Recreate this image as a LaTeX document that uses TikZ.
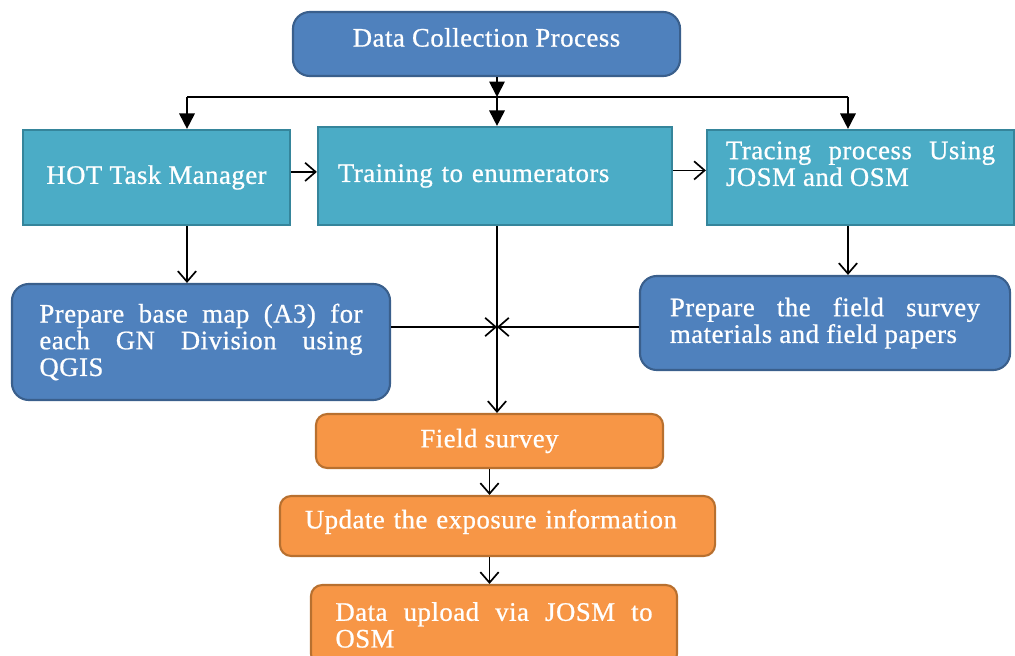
\documentclass[tikz,border=0pt]{standalone}
\usepackage{fontspec}
\setmainfont{Liberation Serif}[LetterSpace=2, FakeBold=0.8]
\usetikzlibrary{positioning}
\usetikzlibrary{arrows.meta}
\hyphenpenalty=10000
\exhyphenpenalty=10000

\definecolor{boxblue}{HTML}{4F81BD}
\definecolor{lineblue}{HTML}{3A5F8C}
\definecolor{boxteal}{HTML}{4BACC6}
\definecolor{lineteal}{HTML}{35859B}
\definecolor{boxorange}{HTML}{F79646}
\definecolor{lineorange}{HTML}{B8702F}

\tikzset{
    stagebox/.style={draw=lineblue, fill=boxblue, line width=1.5pt, rounded corners=12pt,
        text=white, font=\fontsize{19}{19}\selectfont},
    tealbox/.style={draw=lineteal, fill=boxteal, line width=1.5pt,
        text=white, font=\fontsize{19}{19}\selectfont},
    fieldbox/.style={draw=lineorange, fill=boxorange, line width=1.5pt, rounded corners=8pt,
        text=white, font=\fontsize{19}{19}\selectfont},
    tri/.style={-{Triangle[width=11pt, length=11pt]}, line width=1.3pt},
    barb/.style={-{Straight Barb[width=13pt, length=7.5pt]}, line width=1.2pt}
}

\newcommand{\toptext}[3]{\parbox[c][#2][t]{#1}{#3}}

\begin{document}
\begin{tikzpicture}[x=0.025cm, y=-0.025cm]
    \useasboundingbox (0,0) rectangle (1015,656);

    % top row
    \node[stagebox, minimum width=9.675cm, minimum height=1.6cm, text depth=9.5pt] (collect) at (486.5,44) {Data Collection Process};
    \node[tealbox, minimum width=6.675cm, minimum height=2.375cm] (hot) at (156.5,177.5) {HOT Task Manager};
    \node[tealbox, minimum width=8.85cm, minimum height=2.45cm, text width=7.85cm, align=left] (train) at (495,176) {Training to enumerators};
    \node[tealbox, minimum width=7.675cm, minimum height=2.375cm, inner sep=0pt] (trace) at (860.5,177.5)
        {\toptext{6.725cm}{1.8cm}{Tracing process Using JOSM and OSM}};

    % preparation
    \node[stagebox, minimum width=9.45cm, minimum height=2.9cm, text width=8.075cm, align=justify] (basemap) at (201,342)
        {Prepare base map (A3) for each GN Division using QGIS};
    \node[stagebox, minimum width=9.25cm, minimum height=2.35cm, text width=7.75cm, align=justify] (prep) at (825,323)
        {Prepare the field survey materials and field papers};

    % field work
    \node[fieldbox, minimum width=8.675cm, minimum height=1.35cm] (survey) at (489.5,441) {Field survey};
    \node[fieldbox, minimum width=10.875cm, minimum height=1.5cm, text width=9.625cm, align=left, text depth=10pt] (update) at (497.5,526)
        {Update the exposure information};
    \node[fieldbox, minimum width=9.15cm, minimum height=2cm, text width=7.925cm, align=justify] (upload) at (494,625)
        {Data upload via JOSM to OSM};

    % split below the title
    \coordinate (split) at (497,97);
    \coordinate (splitL) at (187,97);
    \coordinate (splitR) at (848,97);
    \coordinate (cross) at (497,327);
    \draw[tri] (collect.south -| split) -- (split);
    \draw[line width=1.3pt] (splitL) -- (splitR);
    \draw[tri] (splitL) -- (splitL |- hot.north);
    \draw[tri] (split) -- (split |- train.north);
    \draw[tri] (splitR) -- (splitR |- trace.north);

    \draw[barb] ([yshift=0.14cm]hot.east) -- ([yshift=0.14cm]hot.east -| train.west);
    \draw[barb] ([yshift=0.14cm]train.east) -- ([yshift=0.14cm]train.east -| trace.west);
    \draw[barb] (hot.south -| splitL) -- (splitL |- basemap.north);
    \draw[barb] (trace.south -| splitR) -- (splitR |- prep.north);

    \draw[barb] (train.south -| cross) -- (cross |- survey.north);
    \draw[barb] (basemap.east |- cross) -- (cross);
    \draw[barb] (prep.west |- cross) -- (cross);
    \draw[barb] (survey.south) -- (survey.south |- update.north);
    \draw[barb] (update.south -| survey.south) -- (survey.south |- upload.north);
\end{tikzpicture}
\end{document}
